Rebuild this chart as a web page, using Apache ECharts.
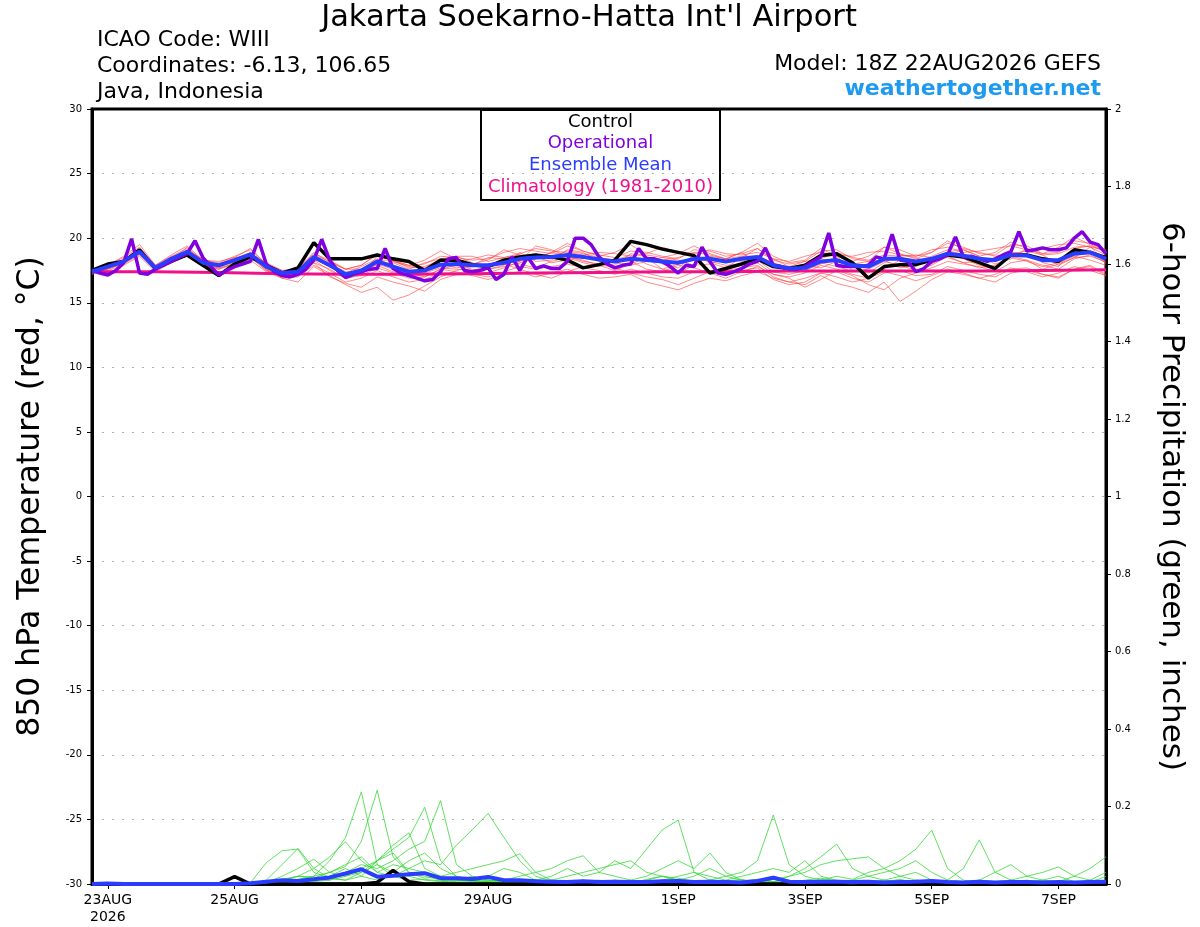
<!DOCTYPE html>
<html>
<head>
<meta charset="utf-8">
<script src="https://cdn.jsdelivr.net/npm/echarts@6/dist/echarts.min.js"></script>
<style>
html, body { margin: 0; padding: 0; background: #fff; }
#main { width: 1200px; height: 927px; }
</style>
</head>
<body>
<div id="main"></div>
<script>
// hours are counted from 23AUG 00Z; run starts 22AUG 18Z (-6 h)
var startHour = -6;
var tickHours = [0, 48, 96, 144, 216, 264, 312, 360];
var tickLabels = ['23AUG\n2026', '25AUG', '27AUG', '29AUG', '1SEP', '3SEP', '5SEP', '7SEP'];

// 3-hourly operational 850 hPa temperature
var opTemp = [
	17.5, 17.3, 17.15, 17.5, 18.1, 19.95, 17.3, 17.2, 17.6, 17.9, 18.2, 18.5, 18.8, 19.8, 18.5, 17.8,
	17.15, 17.5, 17.8, 18.0, 18.2, 19.9, 18.0, 17.4, 17.1, 17.0, 17.2, 17.6, 18.3, 19.9, 18.3, 17.5,
	16.95, 17.2, 17.4, 17.6, 17.65, 19.2, 17.65, 17.3, 17.1, 16.9, 16.7, 16.8, 17.4, 18.4, 18.5, 17.5,
	17.4, 17.5, 17.7, 16.8, 17.2, 18.55, 17.5, 18.55, 17.65, 17.85, 17.65, 17.65, 18.2, 20.0, 20.0, 19.5,
	18.55, 18.0, 17.7, 17.9, 18.0, 19.2, 18.4, 18.4, 18.2, 17.8, 17.3, 17.9, 17.8, 19.3, 18.2, 17.3,
	17.2, 17.4, 17.65, 18.0, 18.2, 19.25, 17.9, 17.8, 17.65, 17.6, 17.8, 18.2, 18.55, 20.4, 17.9, 17.8,
	17.8, 17.8, 17.9, 18.55, 18.4, 20.3, 18.3, 18.2, 17.4, 17.65, 18.2, 18.4, 18.7, 20.1, 18.55, 18.6,
	18.4, 18.2, 18.4, 18.7, 18.95, 20.5, 19.0, 19.1, 19.25, 19.1, 19.1, 19.25, 20.0, 20.5, 19.7, 19.5,
	18.8
];

// 6-hourly control and ensemble mean
var ctlTemp = [
	17.5, 18.0, 18.2, 19.1, 17.65, 18.2, 18.7, 17.9,
	17.1, 18.0, 18.55, 17.9, 17.3, 17.7, 19.65, 18.4,
	18.4, 18.4, 18.7, 18.4, 18.2, 17.5, 18.3, 18.3,
	17.95, 17.8, 18.3, 18.55, 18.7, 18.55, 18.3, 17.7,
	17.95, 18.3, 19.75, 19.5, 19.15, 18.9, 18.65, 17.3,
	17.65, 18.0, 18.4, 17.8, 17.65, 17.9, 18.65, 18.8,
	18.1, 16.9, 17.8, 17.95, 17.95, 18.3, 18.7, 18.55,
	18.1, 17.65, 18.7, 18.7, 18.4, 18.2, 19.1, 18.9,
	18.5
];
var meanTemp = [
	17.4, 17.8, 18.2, 18.95, 17.7, 18.4, 18.95, 18.1,
	17.9, 18.3, 18.75, 17.8, 17.3, 17.4, 18.55, 17.9,
	17.2, 17.5, 18.2, 17.8, 17.4, 17.5, 17.95, 18.0,
	17.9, 17.9, 18.1, 18.4, 18.5, 18.55, 18.7, 18.55,
	18.35, 18.2, 18.4, 18.3, 18.2, 18.1, 18.4, 18.4,
	18.2, 18.4, 18.55, 17.9, 17.65, 17.7, 18.2, 18.3,
	17.9, 17.8, 18.4, 18.4, 18.2, 18.4, 18.8, 18.65,
	18.4, 18.3, 18.7, 18.65, 18.3, 18.3, 18.8, 18.9,
	18.4
];

// daily climatology
var climTemp = [17.4, 17.4, 17.35, 17.25, 17.2, 17.2, 17.25, 17.3, 17.35, 17.4, 17.4, 17.45, 17.45, 17.45, 17.45, 17.5, 17.55];

// 6-hourly ensemble members, temperature
var tempMembers = [
	[17.5, 17.9, 18.5, 19.3, 17.9, 18.6, 19.2, 18.3, 18.1, 18.6, 19.1, 18.0, 17.5, 17.6, 18.9, 18.1,
	 17.6, 17.9, 18.7, 18.2, 17.8, 18.0, 18.6, 18.5, 18.3, 18.4, 18.9, 19.2, 19.0, 18.8, 19.4, 19.0,
	 18.7, 18.5, 19.0, 18.9, 18.6, 18.4, 19.1, 19.0, 18.6, 18.8, 19.2, 18.3, 18.0, 18.2, 19.0, 19.1,
	 18.4, 18.2, 19.3, 19.1, 18.6, 18.9, 19.6, 19.3, 18.8, 18.7, 19.5, 19.4, 18.8, 18.9, 19.8, 19.6, 19.0],
	[17.3, 17.6, 18.0, 18.7, 17.5, 18.2, 18.6, 17.8, 17.6, 18.0, 18.3, 17.4, 16.9, 17.0, 17.9, 17.3,
	 16.6, 16.9, 17.5, 17.0, 16.6, 16.8, 17.3, 17.3, 17.2, 17.0, 17.4, 17.8, 17.6, 17.8, 18.0, 17.7,
	 17.5, 17.2, 17.6, 17.3, 17.0, 16.9, 17.4, 17.5, 17.2, 17.5, 17.7, 16.8, 16.4, 16.6, 17.3, 17.4,
	 16.9, 16.6, 17.3, 17.5, 17.1, 17.2, 17.8, 17.5, 17.2, 17.0, 17.6, 17.7, 17.2, 17.0, 17.6, 17.9, 17.2],
	[17.4, 17.9, 18.3, 19.2, 17.6, 18.3, 19.3, 18.2, 17.8, 18.4, 18.6, 17.6, 17.1, 17.5, 18.3, 17.5,
	 16.9, 17.2, 18.6, 18.3, 17.9, 17.7, 18.4, 18.6, 18.1, 17.6, 17.9, 18.9, 18.2, 18.3, 19.1, 18.9,
	 18.2, 17.9, 18.8, 18.6, 18.0, 17.7, 18.7, 18.1, 17.7, 18.5, 19.2, 18.4, 17.8, 17.5, 18.0, 18.6,
	 17.5, 17.3, 18.1, 18.7, 18.5, 18.0, 18.7, 19.1, 18.6, 18.0, 18.4, 19.2, 18.7, 17.9, 18.5, 19.3, 18.7],
	[17.3, 17.7, 18.0, 18.9, 17.8, 18.5, 18.8, 18.0, 18.0, 18.1, 18.9, 17.9, 17.4, 17.2, 18.1, 17.0,
	 16.5, 16.2, 17.0, 16.6, 16.3, 15.9, 16.8, 17.2, 17.4, 17.6, 17.8, 18.1, 18.4, 18.9, 18.6, 18.2,
	 18.0, 18.4, 18.2, 17.6, 17.4, 17.9, 17.7, 17.3, 16.9, 17.4, 17.8, 17.2, 16.9, 16.2, 16.8, 17.5,
	 17.1, 16.4, 16.0, 16.9, 17.3, 17.7, 18.2, 18.0, 17.8, 17.4, 18.1, 18.3, 17.9, 17.6, 18.4, 18.7, 18.1],
	[17.6, 17.8, 18.1, 18.8, 17.9, 18.3, 19.1, 18.2, 17.9, 18.2, 18.8, 18.1, 17.5, 17.6, 18.7, 18.2,
	 17.6, 17.6, 18.0, 18.1, 17.6, 18.1, 18.4, 18.2, 18.4, 18.7, 18.5, 18.8, 19.2, 19.0, 18.9, 18.7,
	 18.9, 18.8, 18.6, 18.8, 19.3, 18.9, 18.8, 19.1, 18.8, 18.7, 18.9, 18.4, 18.2, 18.6, 18.9, 18.7,
	 18.6, 18.9, 19.0, 18.7, 18.6, 19.1, 19.3, 18.9, 19.0, 19.2, 19.4, 19.1, 19.2, 19.5, 19.6, 19.3, 19.1],
	[17.2, 17.7, 18.4, 19.0, 17.6, 18.5, 19.0, 18.0, 17.7, 18.3, 18.8, 17.7, 17.2, 17.3, 18.4, 17.8,
	 17.3, 17.5, 17.9, 17.4, 17.1, 17.3, 17.7, 17.6, 17.5, 17.8, 18.3, 18.0, 17.7, 18.2, 18.5, 18.1,
	 17.8, 18.3, 18.7, 18.0, 17.6, 18.0, 18.6, 18.2, 17.9, 18.0, 18.3, 17.4, 17.2, 17.5, 18.1, 17.8,
	 17.4, 17.6, 18.2, 17.9, 17.5, 17.9, 18.6, 18.1, 17.7, 17.9, 18.5, 18.2, 17.8, 18.1, 18.6, 18.3, 17.9],
	[17.5, 17.8, 18.3, 19.0, 17.7, 18.2, 18.9, 18.3, 18.0, 18.5, 18.6, 17.5, 17.0, 17.5, 18.5, 17.9,
	 17.3, 17.8, 18.4, 17.9, 17.3, 17.0, 17.6, 17.9, 17.6, 17.3, 17.7, 18.2, 19.4, 19.1, 18.6, 18.3,
	 17.9, 17.5, 18.0, 18.5, 17.6, 17.3, 17.9, 18.6, 18.4, 18.9, 18.1, 17.2, 17.0, 17.3, 17.9, 17.6,
	 17.2, 16.9, 17.6, 18.3, 18.0, 18.6, 19.1, 18.4, 17.9, 17.6, 18.9, 18.8, 18.1, 17.8, 19.2, 19.4, 18.0],
	[17.3, 17.6, 18.1, 19.1, 17.5, 18.3, 18.9, 17.9, 17.6, 18.1, 18.7, 17.6, 16.9, 16.6, 17.8, 17.1,
	 16.4, 15.8, 16.2, 15.2, 15.6, 16.3, 17.0, 17.5, 17.8, 17.9, 18.0, 17.6, 17.2, 16.9, 17.4, 17.8,
	 18.0, 17.7, 17.3, 17.0, 16.8, 16.4, 16.9, 17.4, 17.5, 17.7, 17.9, 17.0, 16.6, 16.4, 17.1, 16.5,
	 16.2, 15.8, 16.6, 15.1, 15.9, 16.8, 17.4, 17.2, 16.9, 16.6, 17.3, 17.5, 17.2, 16.9, 17.6, 17.8, 17.1],
	[17.4, 17.9, 18.2, 18.9, 17.8, 18.4, 19.0, 18.4, 17.9, 18.3, 18.9, 17.9, 17.4, 17.3, 18.6, 18.0,
	 17.4, 17.4, 18.3, 18.3, 17.7, 17.8, 18.3, 18.6, 18.6, 18.2, 18.5, 18.7, 18.4, 18.6, 19.0, 18.8,
	 18.5, 18.3, 18.5, 18.4, 18.3, 18.5, 18.9, 18.7, 18.4, 18.6, 18.6, 17.9, 17.8, 18.2, 18.4, 18.9,
	 18.5, 18.3, 18.7, 18.6, 18.7, 18.5, 18.9, 19.2, 18.9, 18.6, 18.8, 19.0, 18.7, 18.8, 19.3, 19.4, 19.0],
	[17.5, 17.8, 18.2, 18.8, 17.7, 18.5, 18.9, 18.2, 17.9, 18.2, 18.7, 17.9, 17.3, 17.4, 18.4, 17.8,
	 17.0, 17.4, 18.0, 17.6, 17.2, 17.4, 18.0, 17.7, 17.9, 18.5, 18.4, 18.2, 18.6, 18.1, 18.3, 18.6,
	 18.4, 18.1, 17.9, 18.2, 18.5, 18.3, 17.9, 18.0, 18.4, 18.2, 18.6, 18.1, 17.7, 17.9, 17.7, 18.2,
	 18.0, 18.2, 18.3, 17.7, 17.9, 18.4, 18.5, 18.1, 18.2, 18.4, 18.6, 18.3, 17.6, 18.0, 18.5, 18.6, 18.2],
	[17.2, 17.9, 18.6, 19.5, 17.9, 18.7, 19.4, 18.3, 18.2, 18.5, 19.2, 18.0, 17.4, 17.7, 18.8, 18.3,
	 17.6, 17.9, 18.8, 18.2, 17.9, 18.3, 19.0, 18.4, 18.0, 18.3, 19.1, 18.7, 18.4, 18.9, 19.6, 19.0,
	 18.6, 18.9, 19.5, 18.7, 18.5, 18.8, 19.4, 18.8, 18.4, 18.9, 19.6, 18.6, 18.1, 18.3, 19.2, 18.6,
	 18.2, 18.6, 19.3, 18.8, 18.4, 18.9, 19.8, 19.1, 18.6, 18.9, 19.7, 19.2, 18.8, 19.3, 20.1, 19.5, 18.9],
	[17.3, 17.5, 17.9, 18.6, 17.4, 18.1, 18.7, 17.9, 17.7, 18.0, 18.5, 17.5, 17.0, 17.1, 18.1, 17.6,
	 16.9, 17.1, 17.7, 17.3, 16.9, 17.0, 17.6, 17.4, 17.1, 16.8, 17.2, 17.4, 17.0, 17.3, 17.6, 17.2,
	 16.9, 17.0, 17.2, 16.6, 16.3, 16.0, 16.5, 16.9, 16.7, 17.1, 17.4, 16.9, 16.6, 16.9, 17.3, 17.0,
	 16.6, 16.9, 17.4, 17.1, 16.7, 17.1, 17.6, 17.3, 16.9, 17.2, 17.7, 17.4, 17.0, 17.3, 17.8, 17.5, 17.1]
];

// 6-hourly precipitation (inches)
var ctlPrecip = [
	0, 0, 0, 0, 0, 0, 0, 0,
	0, 0.019, 0, 0, 0, 0, 0, 0,
	0, 0, 0.004, 0.035, 0.006, 0, 0, 0,
	0, 0, 0, 0, 0, 0, 0, 0,
	0, 0, 0, 0, 0, 0, 0, 0.002,
	0, 0, 0, 0, 0, 0.004, 0.002, 0.003,
	0.006, 0.004, 0.002, 0, 0, 0, 0, 0,
	0, 0, 0, 0, 0, 0, 0, 0,
	0
];
var meanPrecip = [
	0, 0.001, 0, 0, 0, 0, 0, 0,
	0, 0, 0.002, 0.006, 0.01, 0.008, 0.012, 0.017,
	0.027, 0.038, 0.019, 0.021, 0.025, 0.028, 0.015, 0.015,
	0.013, 0.018, 0.01, 0.01, 0.007, 0.006, 0.005, 0.007,
	0.005, 0.006, 0.005, 0.005, 0.007, 0.008, 0.005, 0.006,
	0.005, 0.004, 0.008, 0.016, 0.006, 0.005, 0.006, 0.006,
	0.005, 0.006, 0.004, 0.005, 0.006, 0.008, 0.005, 0.004,
	0.006, 0.004, 0.005, 0.005, 0.004, 0.005, 0.004, 0.005,
	0.006
];
var precipMembers = [
	[0, 0.004, 0, 0, 0, 0, 0, 0, 0, 0, 0, 0.003, 0.012, 0.01, 0.02, 0.06,
	 0.12, 0.238, 0.05, 0.02, 0.01, 0.012, 0.008, 0.004, 0.004, 0.01, 0.006, 0.002, 0, 0.003, 0.008, 0.004,
	 0.002, 0.006, 0.01, 0.004, 0.002, 0, 0, 0.003, 0.008, 0.012, 0.004, 0, 0.002, 0.006, 0.004, 0.002,
	 0, 0.003, 0.008, 0.004, 0, 0, 0.002, 0.006, 0.003, 0, 0.002, 0.004, 0.008, 0.003, 0, 0.004, 0.01],
	[0, 0, 0, 0, 0, 0, 0, 0, 0, 0, 0, 0.004, 0.008, 0.02, 0.015, 0.03,
	 0.045, 0.11, 0.242, 0.07, 0.03, 0.015, 0.02, 0.01, 0.008, 0.02, 0.012, 0.005, 0.008, 0.004, 0.002, 0.006,
	 0.01, 0.004, 0.002, 0.012, 0.02, 0.015, 0.006, 0.004, 0.002, 0.004, 0.01, 0.006, 0.003, 0.01, 0.015, 0.008,
	 0.004, 0.002, 0.006, 0.012, 0.004, 0.002, 0.004, 0.003, 0.002, 0.004, 0.01, 0.006, 0.002, 0.003, 0.006, 0.004, 0.02],
	[0, 0, 0, 0, 0, 0, 0, 0, 0, 0, 0.003, 0.055, 0.086, 0.09, 0.03, 0.015,
	 0.01, 0.03, 0.06, 0.09, 0.12, 0.198, 0.06, 0.02, 0.01, 0.006, 0.004, 0.008, 0.012, 0.004, 0.002, 0.005,
	 0.003, 0.01, 0.006, 0.002, 0.004, 0.008, 0.004, 0.002, 0.006, 0.003, 0.004, 0.012, 0.008, 0.003, 0.002, 0.004,
	 0.002, 0.006, 0.003, 0.002, 0.01, 0.006, 0.004, 0.002, 0.004, 0.002, 0.003, 0.002, 0.004, 0.006, 0.003, 0.002, 0.005],
	[0, 0, 0, 0, 0, 0, 0, 0, 0, 0, 0, 0.008, 0.01, 0.02, 0.018, 0.01,
	 0.03, 0.05, 0.04, 0.06, 0.09, 0.11, 0.215, 0.05, 0.02, 0.01, 0.006, 0.012, 0.004, 0.003, 0.006, 0.01,
	 0.004, 0.002, 0.005, 0.01, 0.02, 0.01, 0.006, 0.01, 0.02, 0.03, 0.06, 0.178, 0.05, 0.02, 0.01, 0.006,
	 0.004, 0.002, 0.006, 0.01, 0.004, 0.002, 0.004, 0.006, 0.003, 0.002, 0.004, 0.002, 0.003, 0.006, 0.004, 0.002, 0.004],
	[0, 0, 0, 0, 0, 0, 0, 0, 0, 0, 0, 0.002, 0.006, 0.012, 0.02, 0.03,
	 0.05, 0.07, 0.03, 0.02, 0.04, 0.06, 0.05, 0.1, 0.14, 0.182, 0.12, 0.06, 0.02, 0.008, 0.004, 0.002,
	 0.003, 0.006, 0.004, 0.002, 0.01, 0.004, 0.002, 0.006, 0.004, 0.008, 0.012, 0.006, 0.003, 0.006, 0.01, 0.02,
	 0.012, 0.03, 0.04, 0.06, 0.09, 0.139, 0.04, 0.01, 0.004, 0.002, 0.003, 0.006, 0.002, 0.003, 0.004, 0.002, 0.003],
	[0, 0, 0, 0, 0, 0, 0, 0, 0, 0, 0, 0, 0.004, 0.006, 0.01, 0.02,
	 0.04, 0.02, 0.06, 0.1, 0.132, 0.04, 0.02, 0.01, 0.006, 0.004, 0.002, 0.005, 0.01, 0.02, 0.04, 0.02,
	 0.03, 0.06, 0.04, 0.09, 0.14, 0.165, 0.03, 0.01, 0.004, 0.002, 0.006, 0.004, 0.003, 0.002, 0.004, 0.006,
	 0.003, 0.004, 0.002, 0.006, 0.004, 0.003, 0.01, 0.04, 0.114, 0.03, 0.01, 0.004, 0.002, 0.003, 0.004, 0.002, 0.004],
	[0, 0, 0, 0, 0, 0, 0, 0, 0, 0, 0, 0.003, 0.012, 0.02, 0.04, 0.07,
	 0.109, 0.06, 0.03, 0.05, 0.04, 0.03, 0.02, 0.03, 0.04, 0.05, 0.06, 0.078, 0.03, 0.01, 0.006, 0.004,
	 0.006, 0.01, 0.004, 0.002, 0.006, 0.01, 0.02, 0.04, 0.02, 0.01, 0.006, 0.012, 0.02, 0.04, 0.07, 0.103,
	 0.04, 0.02, 0.01, 0.006, 0.004, 0.002, 0.003, 0.006, 0.004, 0.002, 0.004, 0.006, 0.01, 0.02, 0.006, 0.003, 0.006],
	[0, 0, 0, 0, 0, 0, 0, 0, 0, 0, 0, 0.002, 0.004, 0.01, 0.006, 0.01,
	 0.02, 0.03, 0.05, 0.03, 0.06, 0.08, 0.04, 0.02, 0.01, 0.006, 0.01, 0.02, 0.03, 0.04, 0.06, 0.073,
	 0.03, 0.02, 0.01, 0.02, 0.04, 0.06, 0.04, 0.08, 0.03, 0.01, 0.006, 0.004, 0.02, 0.03, 0.05, 0.06,
	 0.065, 0.07, 0.04, 0.02, 0.01, 0.006, 0.004, 0.006, 0.01, 0.006, 0.01, 0.02, 0.03, 0.044, 0.02, 0.01, 0.008],
	[0, 0, 0, 0, 0, 0, 0, 0, 0, 0, 0, 0.01, 0.05, 0.092, 0.04, 0.015,
	 0.01, 0.02, 0.01, 0.03, 0.02, 0.01, 0.006, 0.01, 0.02, 0.01, 0.006, 0.004, 0.006, 0.01, 0.02, 0.03,
	 0.04, 0.05, 0.06, 0.03, 0.02, 0.01, 0.006, 0.01, 0.006, 0.004, 0.01, 0.02, 0.01, 0.004, 0.002, 0.006,
	 0.01, 0.02, 0.03, 0.04, 0.06, 0.03, 0.01, 0.006, 0.004, 0.002, 0.006, 0.01, 0.004, 0.006, 0.02, 0.04, 0.07],
	[0, 0, 0, 0, 0, 0, 0, 0, 0, 0, 0, 0.004, 0.02, 0.04, 0.064, 0.03,
	 0.02, 0.04, 0.06, 0.08, 0.03, 0.02, 0.01, 0.006, 0.004, 0.02, 0.04, 0.03, 0.01, 0.006, 0.004, 0.002,
	 0.006, 0.004, 0.002, 0.006, 0.01, 0.02, 0.03, 0.02, 0.01, 0.02, 0.03, 0.04, 0.03, 0.06, 0.02, 0.01,
	 0.006, 0.004, 0.01, 0.02, 0.03, 0.01, 0.006, 0.004, 0.01, 0.03, 0.05, 0.02, 0.01, 0.006, 0.004, 0.01, 0.03]
];

var purple = '#8000e0';
var blue = '#2a3cff';
var pink = '#f0108a';
var fontFam = '"DejaVu Sans", Verdana, sans-serif';

function pairs(vals, step) {
	return vals.map(function (v, i) { return [startHour + i * step, v]; });
}

function lineSeries(name, vals, step, axis, color, width, z) {
	return {
		name: name,
		type: 'line',
		yAxisIndex: axis,
		data: pairs(vals, step),
		showSymbol: false,
		symbol: 'none',
		silent: true,
		z: z,
		lineStyle: { color: color, width: width }
	};
}

var series = [];
tempMembers.forEach(function (m, i) {
	series.push(lineSeries('temp member ' + (i + 1), m, 6, 0, 'rgba(255,60,60,0.75)', 0.8, 1));
});
precipMembers.forEach(function (m, i) {
	series.push(lineSeries('precip member ' + (i + 1), m, 6, 1, '#3ad83a', 0.8, 1));
});
series.push(lineSeries('Climatology', climTemp, 24, 0, pink, 3, 2));
series.push(lineSeries('Control', ctlTemp, 6, 0, '#000', 3.5, 3));
series.push(lineSeries('Operational', opTemp, 3, 0, purple, 3.5, 4));
series.push(lineSeries('Ensemble Mean', meanTemp, 6, 0, blue, 4, 5));
series.push(lineSeries('Control precip', ctlPrecip, 6, 1, '#000', 3.5, 3));
series.push(lineSeries('Mean precip', meanPrecip, 6, 1, blue, 4, 5));

function textItem(txt, x, y, size, color, align, weight) {
	return {
		type: 'text', x: x, y: y, z: 100,
		style: {
			text: txt,
			font: (weight || 'normal') + ' ' + size + 'px ' + fontFam,
			fill: color,
			align: align,
			verticalAlign: 'middle'
		}
	};
}

var chart = echarts.init(document.getElementById('main'), null, { renderer: 'canvas' });
var option = {
	animation: false,
	backgroundColor: '#fff',
	textStyle: { fontFamily: fontFam },
	grid: {
		left: 92, right: 94, top: 109, bottom: 43,
		show: true, borderColor: '#000', borderWidth: 3, backgroundColor: 'transparent'
	},
	xAxis: {
		type: 'value',
		min: -6,
		max: 378,
		axisLine: { onZero: false, lineStyle: { color: '#000', width: 3 } },
		axisTick: { customValues: tickHours, length: 5, lineStyle: { color: '#000', width: 1 } },
		axisLabel: {
			customValues: tickHours,
			color: '#000',
			fontSize: 14,
			lineHeight: 17,
			margin: 8,
			formatter: function (v) {
				var i = tickHours.indexOf(v);
				return i < 0 ? '' : tickLabels[i];
			}
		},
		splitLine: { show: false }
	},
	yAxis: [
		{
			type: 'value',
			min: -30,
			max: 30,
			interval: 5,
			name: '850 hPa Temperature (red, \u00B0C)',
			nameLocation: 'middle',
			nameGap: 45,
			nameRotate: 90,
			nameTextStyle: { fontSize: 31.5, color: '#000' },
			axisLine: { show: true, onZero: false, lineStyle: { color: '#000', width: 3 } },
			axisTick: { show: true, length: 5, lineStyle: { color: '#000', width: 1 } },
			axisLabel: { color: '#000', fontSize: 10, margin: 10 },
			splitLine: {
				show: true, showMinLine: false, showMaxLine: false,
				lineStyle: { color: '#b0b0b0', width: 1, type: [2, 8] }
			}
		},
		{
			type: 'value',
			min: 0,
			max: 2,
			interval: 0.2,
			position: 'right',
			name: '6-hour Precipitation (green, inches)',
			nameLocation: 'middle',
			nameGap: 50,
			nameRotate: -90,
			nameTextStyle: { fontSize: 31, color: '#000' },
			axisLine: { show: true, onZero: false, lineStyle: { color: '#000', width: 3 } },
			axisTick: { show: true, length: 5, lineStyle: { color: '#000', width: 1 } },
			axisLabel: { color: '#000', fontSize: 10, margin: 9 },
			splitLine: { show: false }
		}
	],
	graphic: [
		textItem("Jakarta Soekarno-Hatta Int'l Airport", 589, 18, 30.5, '#000', 'center'),
		textItem('ICAO Code: WIII', 97, 40, 22, '#000', 'left'),
		textItem('Coordinates: -6.13, 106.65', 97, 66, 22, '#000', 'left'),
		textItem('Java, Indonesia', 97, 92, 22, '#000', 'left'),
		textItem('Model: 18Z 22AUG2026 GEFS', 1101, 64, 22, '#000', 'right'),
		textItem('weathertogether.net', 1101, 89, 22, '#1e9bf0', 'right', 'bold'),
		{
			type: 'group',
			left: 480,
			top: 109,
			z: 100,
			children: [
				{ type: 'rect', shape: { x: 0, y: 0, width: 239, height: 90 }, style: { fill: '#fff', stroke: '#000', lineWidth: 2 } },
				textItem('Control', 119.5, 12, 18, '#000', 'center'),
				textItem('Operational', 119.5, 33.5, 18, purple, 'center'),
				textItem('Ensemble Mean', 119.5, 55, 18, blue, 'center'),
				textItem('Climatology (1981-2010)', 119.5, 77, 18, pink, 'center')
			]
		}
	],
	series: series
};
chart.setOption(option);
</script>
</body>
</html>
